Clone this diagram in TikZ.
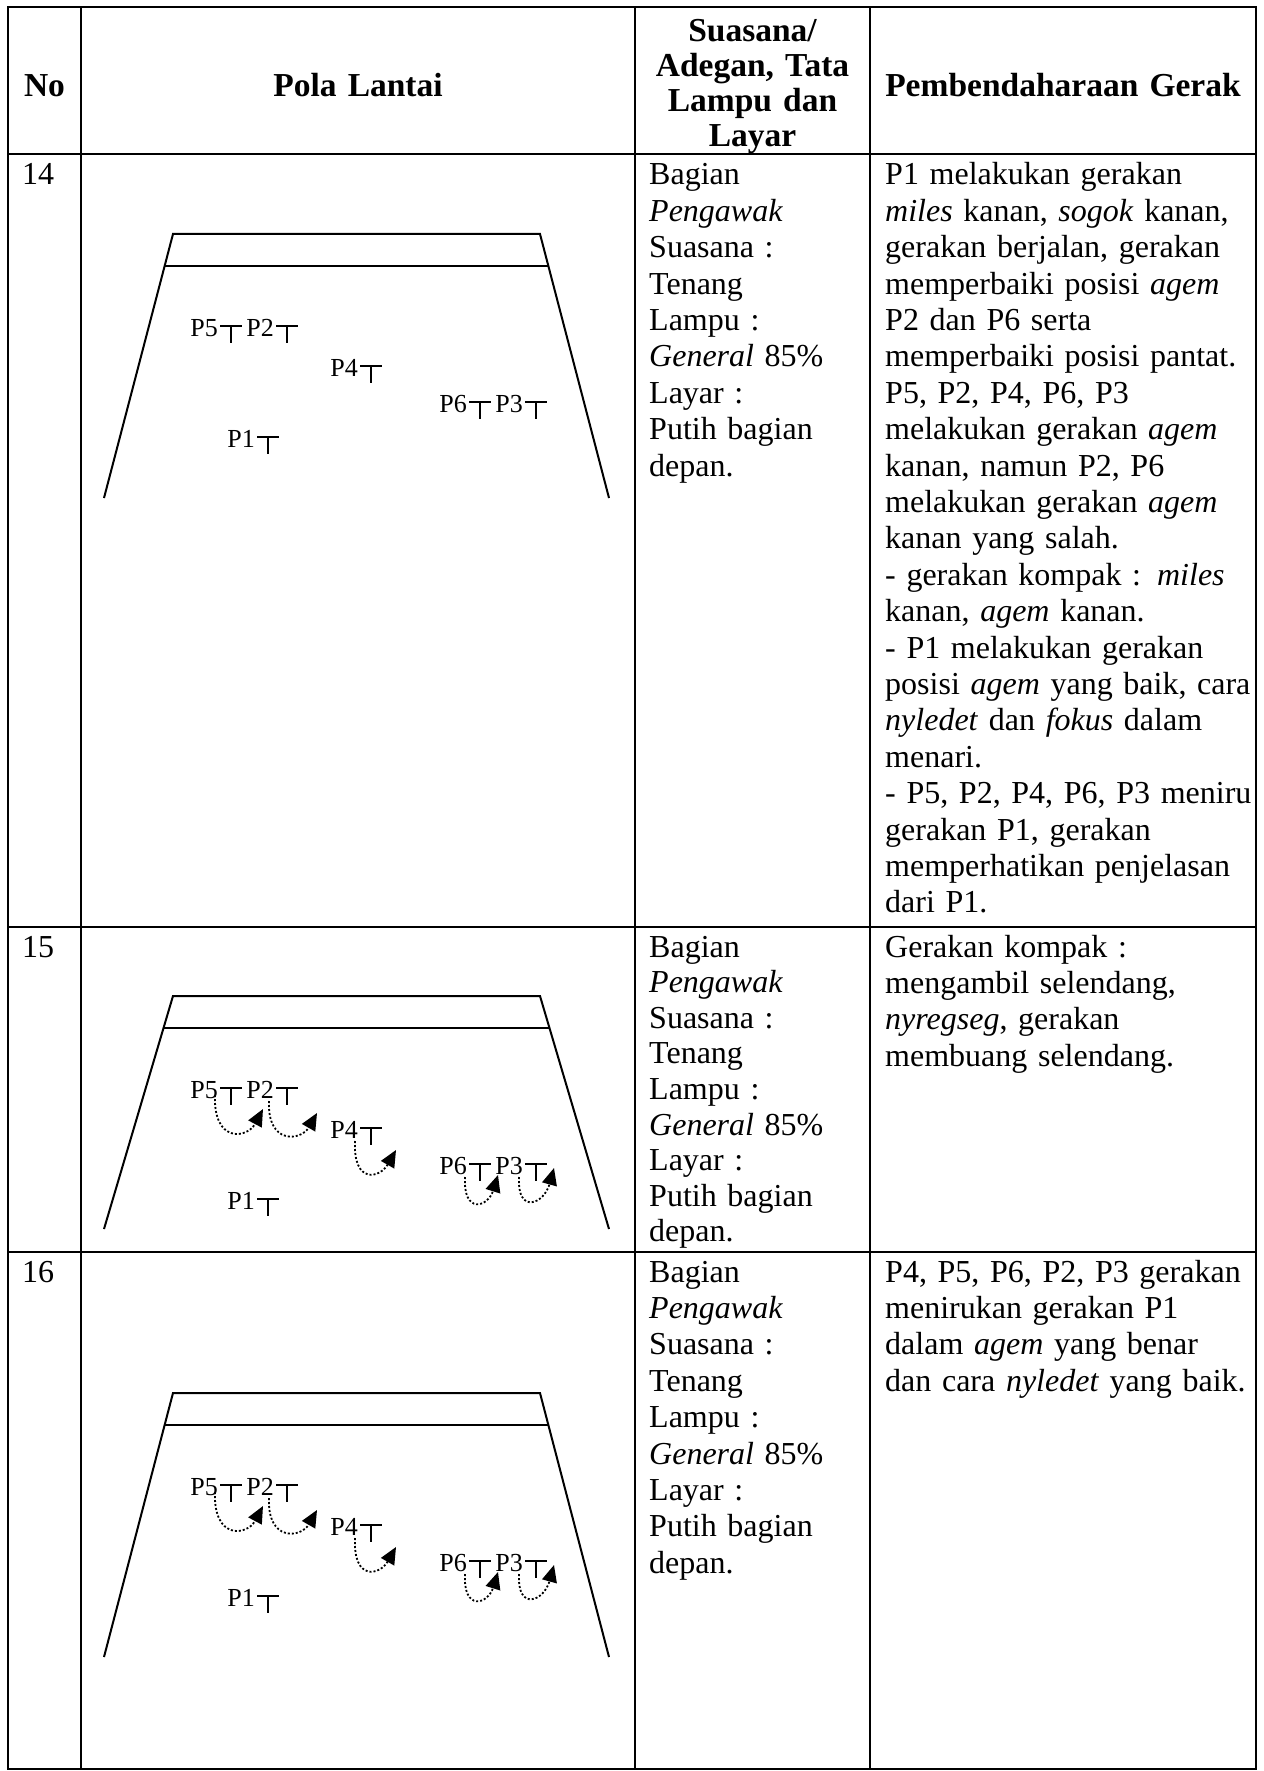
\documentclass[tikz,border=0pt]{standalone}
\usepackage{fontspec}
\setmainfont{Liberation Serif}
\usetikzlibrary{arrows.meta,calc}

\tikzset{
  grid/.style={line width=2.6pt},
  floor/.style={line width=2pt},
  tmark/.style={line width=2.8pt},
  cell/.style={anchor=base west, inner sep=0pt, align=left, text width=380pt,
    font=\fontsize{32}{36.4}\selectfont},
  numcell/.style={anchor=base west, inner sep=0pt, font=\fontsize{32}{36.4}\selectfont},
  head/.style={anchor=base, inner sep=0pt, align=center, text width=236pt,
    font=\fontsize{33.5}{34.8}\selectfont\bfseries},
  plabel/.style={anchor=base east, inner sep=0pt, font=\fontsize{26}{30}\selectfont},
  moveline/.style={line width=1.8pt, dash pattern=on 2pt off 2pt,
    -{Triangle[length=17pt,width=15pt]}},
  pics/dancer/.style={code={
    \coordinate (-o) at (0,0);
    \node[plabel] (-lab) at (-2,0) {#1};
    \draw[tmark] (0,-10) -- (22,-10) (11,-10) -- (11,7);
  }},
}

% stage outline: back line, apron line and the two side walls
\newcommand\stagefloor[3]{%
  \coordinate (#1tl) at (173,#2);
  \coordinate (#1tr) at (540,#2);
  \coordinate (#1bl) at (104,#3);
  \coordinate (#1br) at (609,#3);
  \pgfmathsetmacro\apronfrac{32/(#3-#2)}
  \coordinate (#1ml) at ($(#1tl)!\apronfrac!(#1bl)$);
  \coordinate (#1mr) at ($(#1tr)!\apronfrac!(#1br)$);
  \draw[floor] (#1bl) -- (#1tl) -- (#1tr) -- (#1br);
  \draw[floor] (#1ml) -- (#1mr);
}

% the six dancers, placed by the left end of their T mark
\newcommand\formation[1]{%
  \pic (p5#1) at (220,336) {dancer=P5};
  \pic (p2#1) at (276,336) {dancer=P2};
  \pic (p4#1) at (360,376) {dancer=P4};
  \pic (p6#1) at (469,412) {dancer=P6};
  \pic (p3#1) at (525,412) {dancer=P3};
  \pic (p1#1) at (257,447) {dancer=P1};
}

% dotted turning path: pic, start, first control (rel. start), second control (rel. tip), tip
\newcommand\turnarrow[5]{%
  \draw[moveline] ($(#1-o)+(#2)$)
    .. controls ($(#1-o)+(#2)+(#3)$) and ($(#1-o)+(#5)+(#4)$)
    .. ($(#1-o)+(#5)$);
}
\newcommand\turns[1]{%
  \turnarrow{p5#1}{-5,-3}{-2,48}{-16,30}{43,11}
  \turnarrow{p2#1}{-7,3}{-2,44}{-16,28}{41,15}
  \turnarrow{p4#1}{-5,3}{-2,44}{-16,28}{36,12}
  \turnarrow{p6#1}{-4,3}{-2,38}{-10,32}{29,1}
  \turnarrow{p3#1}{-6,3}{-2,38}{-10,36}{29,-6}
}

\begin{document}
\begin{tikzpicture}[x=1pt,y=-1pt]
\useasboundingbox (0,0) rectangle (1263,1771);

% table frame
\draw[grid] (8,7) rectangle (1256,1769);
\foreach \cx in {81,635,870} \draw[grid] (\cx,7) -- (\cx,1769);
\foreach \ry in {154,927,1252} \draw[grid] (8,\ry) -- (1256,\ry);

% header
\node[head] (hno) at (44.5,97) {No};
\node[head] (hpola) at (358,97) {Pola Lantai};
\node[head] (hsuasana) at (752.5,42) {Suasana/\\Adegan, Tata\\Lampu dan\\Layar};
\node[head,text width=380pt] (hgerak) at (1063,97) {Pembendaharaan Gerak};

% row 14
\node[numcell] (n14) at (22,185) {14};
\stagefloor{a}{234}{498}
\formation{a}
\node[cell] (s14) at (649,185) {Bagian\\\textit{Pengawak}\\Suasana :\\Tenang\\Lampu :\\\textit{General} 85\%\\Layar :\\Putih bagian\\depan.};
\node[cell] (g14) at (885,185) {P1 melakukan gerakan\\
\textit{miles} kanan, \textit{sogok} kanan,\\
gerakan berjalan, gerakan\\
memperbaiki posisi \textit{agem}\\
P2 dan P6 serta\\
memperbaiki posisi pantat.\\
P5, P2, P4, P6, P3\\
melakukan gerakan \textit{agem}\\
kanan, namun P2, P6\\
melakukan gerakan \textit{agem}\\
kanan yang salah.\\
- gerakan kompak : \textit{miles}\\
kanan, \textit{agem} kanan.\\
- P1 melakukan gerakan\\
posisi \textit{agem} yang baik, cara\\
\textit{nyledet} dan \textit{fokus} dalam\\
menari.\\
- P5, P2, P4, P6, P3 meniru\\
gerakan P1, gerakan\\
memperhatikan penjelasan\\
dari P1.};

% row 15
\node[numcell] (n15) at (22,957) {15};
\stagefloor{b}{996}{1229}
\begin{scope}[shift={(0,762)}]
  \formation{b}
\end{scope}
\turns{b}
\node[cell,font=\fontsize{32}{35.6}\selectfont] (s15) at (649,957) {Bagian\\\textit{Pengawak}\\Suasana :\\Tenang\\Lampu :\\\textit{General} 85\%\\Layar :\\\makebox[208pt][s]{Putih bagian}\\depan.};
\node[cell] (g15) at (885,957) {Gerakan kompak :\\mengambil selendang,\\\textit{nyregseg}, gerakan\\membuang selendang.};

% row 16
\node[numcell] (n16) at (22,1282) {16};
\stagefloor{c}{1393}{1657}
\begin{scope}[shift={(0,1159)}]
  \formation{c}
\end{scope}
\turns{c}
\node[cell] (s16) at (649,1282) {Bagian\\\textit{Pengawak}\\Suasana :\\Tenang\\Lampu :\\\textit{General} 85\%\\Layar :\\Putih bagian\\depan.};
\node[cell] (g16) at (885,1282) {P4, P5, P6, P2, P3 gerakan\\menirukan gerakan P1\\dalam \textit{agem} yang benar\\dan cara \textit{nyledet} yang baik.};
\end{tikzpicture}
\end{document}
